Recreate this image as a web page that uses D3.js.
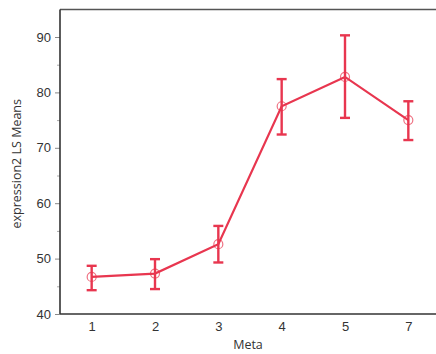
<!DOCTYPE html>
<html><head><meta charset="utf-8">
<script src="https://cdn.jsdelivr.net/npm/d3@7"></script>
<style>body{margin:0;background:#fff;} svg{display:block;font-family:"Open Sans","Noto Sans",sans-serif;}</style>
</head><body>
<svg id="c" width="436" height="354"></svg>
<script>
const categories = ["1","2","3","4","5","7"];
const means = [46.7, 47.3, 52.6, 77.5, 82.8, 75.0];
const upper = [48.7, 49.9, 55.9, 82.4, 90.3, 78.4];
const lower = [44.3, 44.5, 49.3, 72.4, 75.4, 71.4];
const yTicks = [40, 50, 60, 70, 80, 90];
const yMinor = [45, 55, 65, 75, 85];

const svg = d3.select("#c");
const L = 60, T = 9.5, B = 314, R = 440;
const x = d3.scalePoint().domain(categories).range([L, R]).padding(0.5);
const ys = d3.scaleLinear().domain([40, 90]).range([314, 37]);
const red = "#e8364f";

svg.append("line").attr("x1", L).attr("x2", 436).attr("y1", T).attr("y2", T).attr("stroke", "#555").attr("stroke-width", 1.6);

const yAxis = svg.append("g").attr("transform", `translate(${L},0)`)
  .call(d3.axisLeft(ys).tickValues(yTicks).tickSize(5).tickPadding(4));
yAxis.select(".domain").remove();
yAxis.selectAll(".tick line").attr("stroke", "#888");
yAxis.selectAll("text").attr("font-size", 13).attr("fill", "#333");
svg.append("g").attr("transform", `translate(${L},0)`)
  .call(d3.axisLeft(ys).tickValues(yMinor).tickSize(3).tickFormat(""))
  .call(g => g.select(".domain").remove())
  .selectAll(".tick line").attr("stroke", "#aaa");
svg.append("line").attr("x1", L).attr("x2", L).attr("y1", T).attr("y2", B).attr("stroke", "#333").attr("stroke-width", 1.6);

const xAxis = svg.append("g").attr("transform", `translate(0,${B})`)
  .call(d3.axisBottom(x).tickSize(0).tickPadding(8));
xAxis.select(".domain").remove();
xAxis.selectAll("text").attr("font-size", 13).attr("fill", "#333");
svg.append("line").attr("x1", L).attr("x2", 436).attr("y1", B).attr("y2", B).attr("stroke", "#333").attr("stroke-width", 1.6);

svg.append("text").attr("x", 248).attr("y", 349).attr("text-anchor", "middle")
  .attr("font-size", 12.5).attr("fill", "#333").text("Meta");
svg.append("text").attr("transform", `translate(21,${(T + B) / 2 + 2}) rotate(-90)`).attr("text-anchor", "middle")
  .attr("font-size", 12.5).attr("fill", "#333").text("expression2 LS Means");

const data = categories.map((c, i) => ({c, m: means[i], u: upper[i], l: lower[i]}));
const g = svg.append("g");
g.append("path").datum(data)
  .attr("d", d3.line().x(d => x(d.c)).y(d => ys(d.m)))
  .attr("fill", "none").attr("stroke", red).attr("stroke-width", 2.2);
const eb = g.selectAll(".eb").data(data).join("g");
eb.append("line").attr("x1", d => x(d.c)).attr("x2", d => x(d.c)).attr("y1", d => ys(d.u)).attr("y2", d => ys(d.l))
  .attr("stroke", red).attr("stroke-width", 2.4);
eb.append("line").attr("x1", d => x(d.c) - 5).attr("x2", d => x(d.c) + 5).attr("y1", d => ys(d.u)).attr("y2", d => ys(d.u))
  .attr("stroke", red).attr("stroke-width", 2.4);
eb.append("line").attr("x1", d => x(d.c) - 5).attr("x2", d => x(d.c) + 5).attr("y1", d => ys(d.l)).attr("y2", d => ys(d.l))
  .attr("stroke", red).attr("stroke-width", 2.4);
eb.append("circle").attr("cx", d => x(d.c)).attr("cy", d => ys(d.m)).attr("r", 4.5)
  .attr("fill", "none").attr("stroke", red).attr("stroke-opacity", 0.7).attr("stroke-width", 1.2);
</script>
</body></html>
